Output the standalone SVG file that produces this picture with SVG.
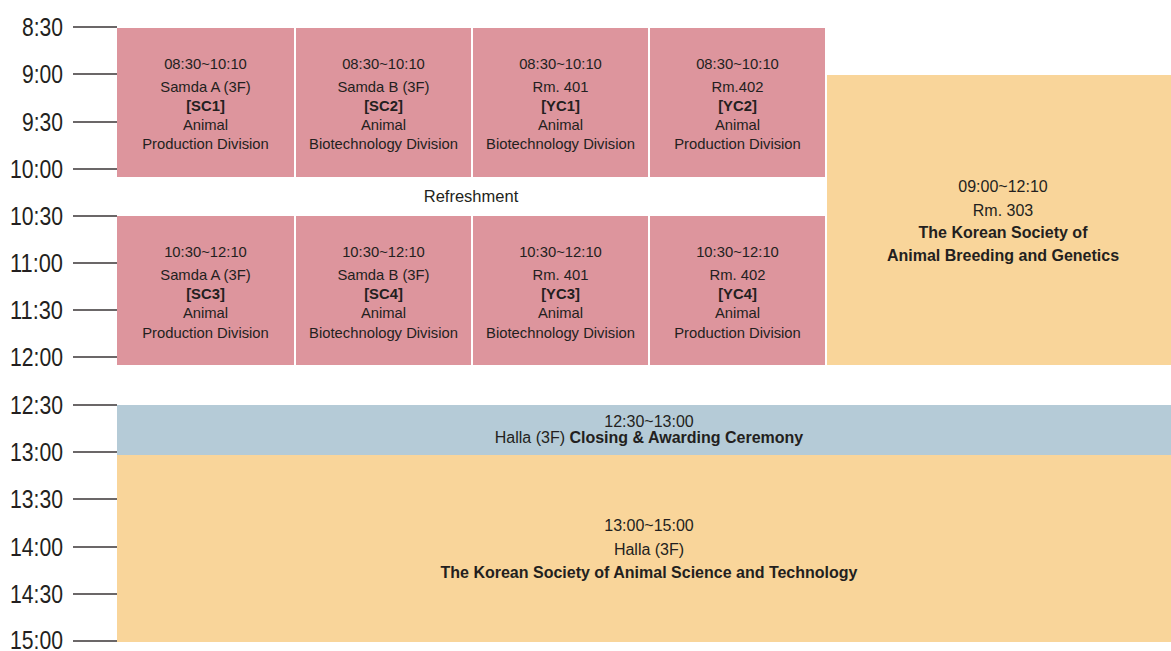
<svg xmlns="http://www.w3.org/2000/svg" width="1171" height="651" viewBox="0 0 1171 651">
<style>
.tl{font-family:"Liberation Sans",Arial,sans-serif;font-size:25px;fill:#231f20;text-anchor:end}
.tk{stroke:#3a3536;stroke-width:1.5}
.pink{fill:#dd959d}
.or{fill:#f9d59a}
.bl{fill:#b5cbd7}
.t{font-family:"Liberation Sans",Arial,sans-serif;font-size:14.8px;fill:#231f20;text-anchor:middle}
.b{font-weight:bold}
.m{font-size:16px}
</style>
<rect width="1171" height="651" fill="#ffffff"/>
<g id="axis">
<g class="tk">
<line x1="73" y1="27" x2="117" y2="27"/>
<line x1="73" y1="74" x2="117" y2="74"/>
<line x1="73" y1="122" x2="117" y2="122"/>
<line x1="73" y1="169" x2="117" y2="169"/>
<line x1="73" y1="216" x2="117" y2="216"/>
<line x1="73" y1="263" x2="117" y2="263"/>
<line x1="73" y1="310" x2="117" y2="310"/>
<line x1="73" y1="357" x2="117" y2="357"/>
<line x1="73" y1="405" x2="117" y2="405"/>
<line x1="73" y1="452" x2="117" y2="452"/>
<line x1="73" y1="499" x2="117" y2="499"/>
<line x1="73" y1="547" x2="117" y2="547"/>
<line x1="73" y1="594" x2="117" y2="594"/>
<line x1="73" y1="641" x2="117" y2="641"/>
</g>
<text class="tl" x="63" y="36" textLength="41" lengthAdjust="spacingAndGlyphs">8:30</text>
<text class="tl" x="63" y="83" textLength="41" lengthAdjust="spacingAndGlyphs">9:00</text>
<text class="tl" x="63" y="131" textLength="41" lengthAdjust="spacingAndGlyphs">9:30</text>
<text class="tl" x="63" y="178" textLength="53" lengthAdjust="spacingAndGlyphs">10:00</text>
<text class="tl" x="63" y="225" textLength="53" lengthAdjust="spacingAndGlyphs">10:30</text>
<text class="tl" x="63" y="272" textLength="53" lengthAdjust="spacingAndGlyphs">11:00</text>
<text class="tl" x="63" y="319" textLength="53" lengthAdjust="spacingAndGlyphs">11:30</text>
<text class="tl" x="63" y="366" textLength="53" lengthAdjust="spacingAndGlyphs">12:00</text>
<text class="tl" x="63" y="414" textLength="53" lengthAdjust="spacingAndGlyphs">12:30</text>
<text class="tl" x="63" y="461" textLength="53" lengthAdjust="spacingAndGlyphs">13:00</text>
<text class="tl" x="63" y="508" textLength="53" lengthAdjust="spacingAndGlyphs">13:30</text>
<text class="tl" x="63" y="556" textLength="53" lengthAdjust="spacingAndGlyphs">14:00</text>
<text class="tl" x="63" y="603" textLength="53" lengthAdjust="spacingAndGlyphs">14:30</text>
<text class="tl" x="63" y="649" textLength="53" lengthAdjust="spacingAndGlyphs">15:00</text>
</g>

<g id="SC1">
<rect class="pink" x="117" y="28" width="177" height="149"/>
<text class="t" x="205.5" y="69">08:30~10:10</text>
<text class="t" x="205.5" y="92">Samda A (3F)</text>
<text class="t b" x="205.5" y="111">[SC1]</text>
<text class="t" x="205.5" y="130">Animal</text>
<text class="t" x="205.5" y="149">Production Division</text>
</g>
<g id="SC2">
<rect class="pink" x="296" y="28" width="175" height="149"/>
<text class="t" x="383.5" y="69">08:30~10:10</text>
<text class="t" x="383.5" y="92">Samda B (3F)</text>
<text class="t b" x="383.5" y="111">[SC2]</text>
<text class="t" x="383.5" y="130">Animal</text>
<text class="t" x="383.5" y="149">Biotechnology Division</text>
</g>
<g id="YC1">
<rect class="pink" x="473" y="28" width="175" height="149"/>
<text class="t" x="560.5" y="69">08:30~10:10</text>
<text class="t" x="560.5" y="92">Rm. 401</text>
<text class="t b" x="560.5" y="111">[YC1]</text>
<text class="t" x="560.5" y="130">Animal</text>
<text class="t" x="560.5" y="149">Biotechnology Division</text>
</g>
<g id="YC2">
<rect class="pink" x="650" y="28" width="175" height="149"/>
<text class="t" x="737.5" y="69">08:30~10:10</text>
<text class="t" x="737.5" y="92">Rm.402</text>
<text class="t b" x="737.5" y="111">[YC2]</text>
<text class="t" x="737.5" y="130">Animal</text>
<text class="t" x="737.5" y="149">Production Division</text>
</g>

<g id="refreshment">
<text class="t" x="471" y="202" style="font-size:16.5px">Refreshment</text>
</g>

<g id="SC3">
<rect class="pink" x="117" y="216" width="177" height="149"/>
<text class="t" x="205.5" y="257">10:30~12:10</text>
<text class="t" x="205.5" y="280">Samda A (3F)</text>
<text class="t b" x="205.5" y="299">[SC3]</text>
<text class="t" x="205.5" y="318">Animal</text>
<text class="t" x="205.5" y="338">Production Division</text>
</g>
<g id="SC4">
<rect class="pink" x="296" y="216" width="175" height="149"/>
<text class="t" x="383.5" y="257">10:30~12:10</text>
<text class="t" x="383.5" y="280">Samda B (3F)</text>
<text class="t b" x="383.5" y="299">[SC4]</text>
<text class="t" x="383.5" y="318">Animal</text>
<text class="t" x="383.5" y="338">Biotechnology Division</text>
</g>
<g id="YC3">
<rect class="pink" x="473" y="216" width="175" height="149"/>
<text class="t" x="560.5" y="257">10:30~12:10</text>
<text class="t" x="560.5" y="280">Rm. 401</text>
<text class="t b" x="560.5" y="299">[YC3]</text>
<text class="t" x="560.5" y="318">Animal</text>
<text class="t" x="560.5" y="338">Biotechnology Division</text>
</g>
<g id="YC4">
<rect class="pink" x="650" y="216" width="175" height="149"/>
<text class="t" x="737.5" y="257">10:30~12:10</text>
<text class="t" x="737.5" y="280">Rm. 402</text>
<text class="t b" x="737.5" y="299">[YC4]</text>
<text class="t" x="737.5" y="318">Animal</text>
<text class="t" x="737.5" y="338">Production Division</text>
</g>

<g id="KSABG">
<rect class="or" x="827" y="75" width="344" height="290"/>
<text class="t m" x="1003" y="192">09:00~12:10</text>
<text class="t m" x="1003" y="216">Rm. 303</text>
<text class="t m b" x="1003" y="238">The Korean Society of</text>
<text class="t m b" x="1003" y="261">Animal Breeding and Genetics</text>
</g>

<g id="ceremony">
<rect class="bl" x="117" y="405" width="1054" height="50"/>
<text class="t m" x="649" y="427">12:30~13:00</text>
<text class="t m" x="649" y="443">Halla (3F) <tspan class="b">Closing &amp; Awarding Ceremony</tspan></text>
</g>

<g id="KSAST">
<rect class="or" x="117" y="455" width="1054" height="187"/>
<text class="t m" x="649" y="531">13:00~15:00</text>
<text class="t m" x="649" y="555">Halla (3F)</text>
<text class="t m b" x="649" y="578">The Korean Society of Animal Science and Technology</text>
</g>

<g id="connectors"></g>
</svg>
